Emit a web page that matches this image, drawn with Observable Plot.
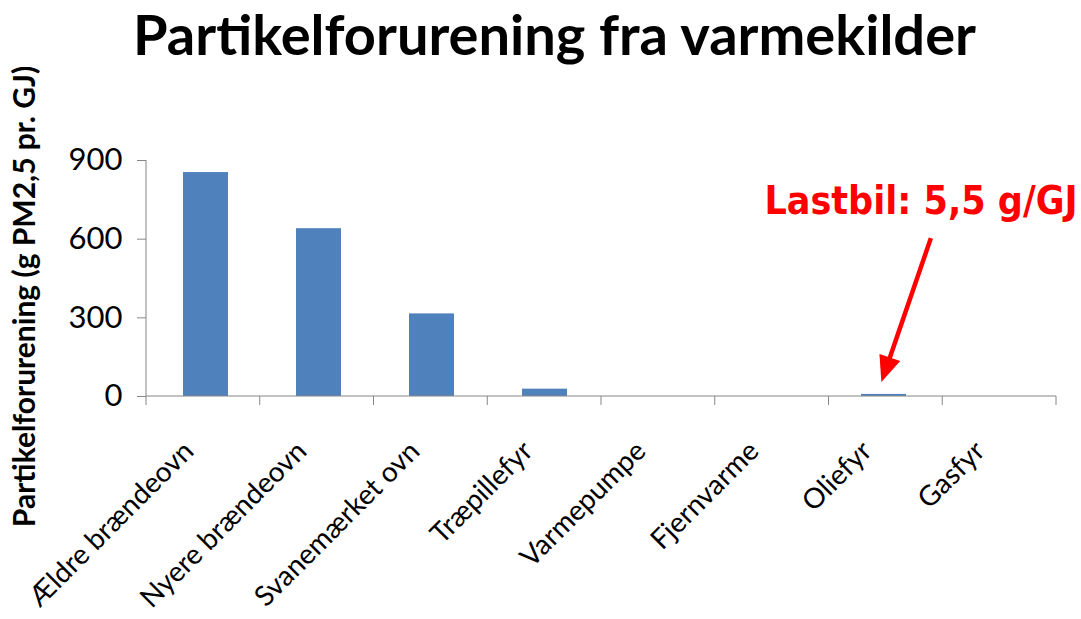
<!DOCTYPE html>
<html><head><meta charset="utf-8">
<script src="https://cdn.jsdelivr.net/npm/d3@7"></script>
<script src="https://cdn.jsdelivr.net/npm/@observablehq/plot@0.6"></script>
<style>
body{margin:0;background:#fff;}
#title{position:relative;height:90px;font-family:Lato,sans-serif;font-weight:bold;font-size:56px;box-sizing:border-box;white-space:nowrap;}
#title span{position:absolute;left:28px;right:0;top:0;line-height:normal;text-align:center;}
</style></head><body>
<div id="title"><span>Partikelforurening fra varmekilder</span></div>
<div id="chart"></div>
<script>
const categories = ["Ældre brændeovn","Nyere brændeovn","Svanemærket ovn","Træpillefyr","Varmepumpe","Fjernvarme","Oliefyr","Gasfyr"];
const values = [854, 640, 315, 28, 0, 0, 8, 0];
const yTicks = [0, 300, 600, 900];
const yLabel = "Partikelforurening (g PM2,5 pr. GJ)";
const noteText = "Lastbil: 5,5 g/GJ";
const noteCategory = "Oliefyr";
const noteValue = 742;
const arrowFromValue = 602;
const arrowToValue = 53;

const data = categories.map((c, i) => ({category: c, value: values[i]}));

const W = 1081, H = 529, mL = 146, mR = 25, mT = 70, mB = 223;
const n = categories.length;
const step = (W - mL - mR) / n;
const padInner = 0.604;
const axisGray = "#868686";

function axisLines(index, scales, values, dims) {
  const g = d3.create("svg:g");
  const y0 = scales.y(0);
  g.append("line").attr("x1", mL).attr("x2", mL).attr("y1", scales.y(900)).attr("y2", y0).attr("stroke", axisGray);
  g.append("line").attr("x1", mL).attr("x2", W - mR).attr("y1", y0).attr("y2", y0).attr("stroke", axisGray);
  for (let i = 0; i <= n; i++) {
    const x = mL + i * step;
    g.append("line").attr("x1", x).attr("x2", x).attr("y1", y0).attr("y2", y0 + 9).attr("stroke", axisGray);
  }
  return g.node();
}

function arrowMark(index, scales) {
  const i = categories.indexOf(noteCategory);
  const cx = mL + (i + 0.5) * step;
  const x1 = cx + 0.4 * step, y1 = scales.y(arrowFromValue);
  const x2 = cx - 0.035 * step, y2 = scales.y(arrowToValue);
  const ang = Math.atan2(y2 - y1, x2 - x1);
  const L = 26, Wd = 11;
  const bx = x2 - L * Math.cos(ang), by = y2 - L * Math.sin(ang);
  const px = -Math.sin(ang), py = Math.cos(ang);
  const g = d3.create("svg:g");
  g.append("line").attr("x1", x1).attr("y1", y1).attr("x2", bx + 2*Math.cos(ang)).attr("y2", by + 2*Math.sin(ang))
    .attr("stroke", "#FF0000").attr("stroke-width", 4.5);
  g.append("polygon").attr("points", [[x2, y2], [bx + px*Wd, by + py*Wd], [bx - px*Wd, by - py*Wd]].map(p => p.join(",")).join(" "))
    .attr("fill", "#FF0000");
  return g.node();
}

const chart = Plot.plot({
  width: W, height: H,
  marginLeft: mL, marginRight: mR, marginTop: mT, marginBottom: mB,
  style: {fontFamily: "Lato, sans-serif", color: "black", background: "white", overflow: "visible"},
  x: {domain: categories, paddingInner: padInner, paddingOuter: padInner / 2, label: null, axis: null},
  y: {domain: [0, 900], label: null, axis: null},
  marks: [
    Plot.barY(data, {x: "category", y: "value", fill: "#4F81BD"}),
    axisLines,
    Plot.axisY({ticks: yTicks, tickSize: 9, tickPadding: 15, fontSize: 31, stroke: axisGray, fill: "black", label: null}),
    Plot.axisX({tickSize: 0, tickRotate: -45, fontSize: 28, tickPadding: 50, dx: -17, fill: "black", label: null}),
    Plot.text([yLabel], {frameAnchor: "left", text: d => d, rotate: -90, textAnchor: "middle", dx: -121, dy: 18, fontSize: 30, fontWeight: "bold", fill: "black"}),
    Plot.text([noteText], {x: () => noteCategory, y: () => noteValue, text: d => d, dx: 37, fontSize: 39, fontWeight: "bold", fill: "#FF0000", fontFamily: "'DejaVu Sans Condensed', 'DejaVu Sans', sans-serif"}),
    arrowMark
  ]
});
document.getElementById("chart").appendChild(chart);
</script>
</body></html>
